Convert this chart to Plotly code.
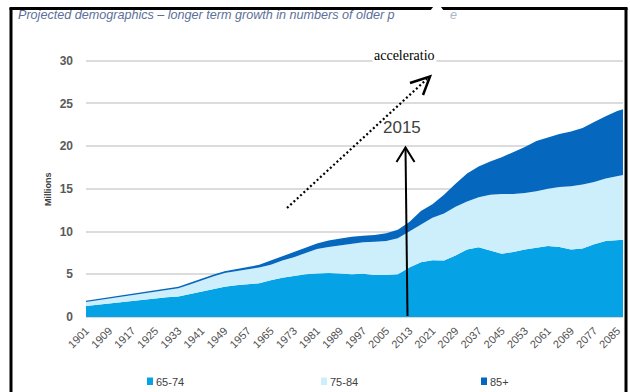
import plotly.graph_objects as go

years = [1901, 1905, 1909, 1913, 1917, 1921, 1925, 1929, 1933, 1937, 1941, 1945,
         1949, 1953, 1957, 1961, 1965, 1969, 1973, 1977, 1981, 1985, 1989, 1993,
         1997, 2001, 2005, 2009, 2013, 2017, 2021, 2025, 2029, 2033, 2037, 2041,
         2045, 2049, 2053, 2057, 2061, 2065, 2069, 2073, 2077, 2081, 2085, 2087]

age_65_74 = [1.3, 1.45, 1.6, 1.75, 1.9, 2.05, 2.15, 2.3, 2.4, 2.7, 3.0, 3.3,
             3.55, 3.7, 3.8, 3.95, 4.3, 4.6, 4.8, 5.0, 5.1, 5.15, 5.1, 5.0,
             5.05, 4.9, 4.9, 5.0, 5.8, 6.4, 6.65, 6.6, 7.2, 7.9, 8.15, 7.8,
             7.4, 7.6, 7.9, 8.1, 8.3, 8.2, 7.9, 8.0, 8.5, 8.9, 9.0, 9.05]

age_75_84 = [0.45, 0.5, 0.55, 0.6, 0.65, 0.7, 0.8, 0.85, 0.95, 1.1, 1.3, 1.45,
             1.6, 1.65, 1.75, 1.85, 1.8, 2.0, 2.2, 2.5, 2.85, 3.05, 3.3, 3.6,
             3.7, 3.9, 4.0, 4.2, 4.2, 4.5, 4.95, 5.5, 5.7, 5.6, 5.85, 6.5,
             7.0, 6.8, 6.6, 6.6, 6.7, 7.0, 7.4, 7.5, 7.3, 7.3, 7.5, 7.55]

age_85_plus = [0.15, 0.15, 0.15, 0.15, 0.15, 0.15, 0.15, 0.15, 0.2, 0.2, 0.2, 0.2,
               0.2, 0.25, 0.3, 0.3, 0.5, 0.5, 0.6, 0.6, 0.65, 0.75, 0.8, 0.8,
               0.75, 0.8, 0.9, 1.0, 1.1, 1.5, 1.6, 2.2, 2.7, 3.3, 3.6, 3.9,
               4.3, 4.9, 5.4, 5.9, 6.0, 6.2, 6.4, 6.6, 7.0, 7.3, 7.6, 7.7]

series_names = ["65-74", "75-84", "85+"]
series_colors = ["#05a3e6", "#cdeefb", "#0567bd"]
tick_years = list(range(1901, 2086, 8))
tick_labels = [str(y) for y in tick_years]
y_ticks = [0, 5, 10, 15, 20, 25, 30]

W, H = 630, 392
L, R, T, B = 86, 623, 58, 317

def px(x):
    return (x - L) / (R - L)

def py(y):
    return (B - y) / (B - T)

fig = go.Figure()
for name, vals, col in zip(series_names, [age_65_74, age_75_84, age_85_plus], series_colors):
    fig.add_trace(go.Scatter(x=years, y=vals, name=name, mode="lines",
                             stackgroup="one", line=dict(width=0, color=col),
                             fillcolor=col, showlegend=False, hoverinfo="skip"))

shapes = []
annotations = []

# frame
shapes.append(dict(type="line", xref="paper", yref="paper", x0=px(11), x1=px(11), y0=py(8), y1=py(395),
                   line=dict(color="black", width=3)))
shapes.append(dict(type="line", xref="paper", yref="paper", x0=px(9.5), x1=px(627.5), y0=py(8.5), y1=py(8.5),
                   line=dict(color="black", width=3)))
shapes.append(dict(type="line", xref="paper", yref="paper", x0=px(626), x1=px(626), y0=py(8), y1=py(395),
                   line=dict(color="black", width=3)))
# notch in frame
shapes.append(dict(type="path", xref="paper", yref="paper",
                   path="M {} {} L {} {} L {} {} Z".format(px(430), py(11), px(437), py(2), px(444), py(11)),
                   fillcolor="white", line=dict(width=0), layer="above"))

# dotted arrow
shapes.append(dict(type="line", xref="paper", yref="paper", x0=px(287), y0=py(208), x1=px(427), y1=py(79),
                   line=dict(color="black", width=2.2, dash="2px,2.5px"), layer="above"))
shapes.append(dict(type="path", xref="paper", yref="paper",
                   path="M {} {} L {} {} L {} {}".format(px(410), py(83), px(430), py(76.5), px(423), py(95)),
                   line=dict(color="black", width=2.5), layer="above"))

# vertical arrow (2015)
shapes.append(dict(type="line", xref="paper", yref="paper", x0=px(407.5), y0=py(316), x1=px(405.5), y1=py(148),
                   line=dict(color="black", width=2), layer="above"))
shapes.append(dict(type="path", xref="paper", yref="paper",
                   path="M {} {} L {} {} L {} {}".format(px(396.5), py(162), px(405.5), py(147.5), px(414.5), py(162)),
                   line=dict(color="black", width=2), layer="above"))

# legend squares + text
leg_x = [147, 321, 481]
for name, col, lx in zip(series_names, series_colors, leg_x):
    shapes.append(dict(type="rect", xref="paper", yref="paper", x0=px(lx), x1=px(lx + 6),
                       y0=py(385), y1=py(377.5), fillcolor=col, line=dict(width=0)))
    annotations.append(dict(text=name, xref="paper", yref="paper", x=px(lx + 7), y=py(381.5),
                            xanchor="left", yanchor="middle", showarrow=False,
                            font=dict(family="Liberation Sans, Arial", size=11, color="#404040")))

# title
annotations.append(dict(text="<i>Projected demographics \u2013 longer term growth in numbers of older p</i>",
                        xref="paper", yref="paper", x=px(16), y=py(14.5), xanchor="left", yanchor="middle",
                        showarrow=False, font=dict(family="Liberation Sans, Arial", size=12.6, color="#5c7099")))
annotations.append(dict(text="<i>e</i>", xref="paper", yref="paper", x=px(448), y=py(14.5),
                        xanchor="left", yanchor="middle", showarrow=False,
                        font=dict(family="Liberation Sans, Arial", size=12.6, color="#aab6cc")))

# y-axis title
annotations.append(dict(text="<b>Millions</b>", xref="paper", yref="paper", x=px(48), y=py(189),
                        xanchor="center", yanchor="middle", textangle=-90, showarrow=False,
                        font=dict(family="Liberation Sans, Arial", size=9, color="#404040")))

# acceleratio text
annotations.append(dict(text="acceleratio", xref="paper", yref="paper", x=px(404), y=py(55),
                        xanchor="center", yanchor="middle", showarrow=False, bgcolor="white",
                        font=dict(family="Liberation Serif, Times New Roman", size=14, color="black")))
# 2015
annotations.append(dict(text="2015", xref="paper", yref="paper", x=px(402), y=py(127),
                        xanchor="center", yanchor="middle", showarrow=False,
                        font=dict(family="Liberation Sans, Arial", size=17, color="#404040")))

fig.update_layout(
    width=W, height=H,
    margin=dict(l=L, r=W - R, t=T, b=H - B, pad=0),
    paper_bgcolor="white", plot_bgcolor="white",
    showlegend=False,
    shapes=shapes, annotations=annotations,
    xaxis=dict(range=[1901, 2087], tickvals=tick_years, ticktext=tick_labels, tickangle=-45,
               showgrid=False, zeroline=False, showline=True, linecolor="#d9d9d9", linewidth=1,
               ticks="", ticklabelstandoff=2,
               tickfont=dict(family="Liberation Sans, Arial", size=11, color="#505050")),
    yaxis=dict(range=[0, 30.3], tickvals=y_ticks, showgrid=True, gridcolor="#dcdcdc", gridwidth=1.5,
               zeroline=False, showline=False, ticks="", ticklabelstandoff=12,
               tickfont=dict(family="Liberation Sans, Arial", size=12, color="#5a5a5a", weight="bold")),
)

fig.write_html("out.html")
